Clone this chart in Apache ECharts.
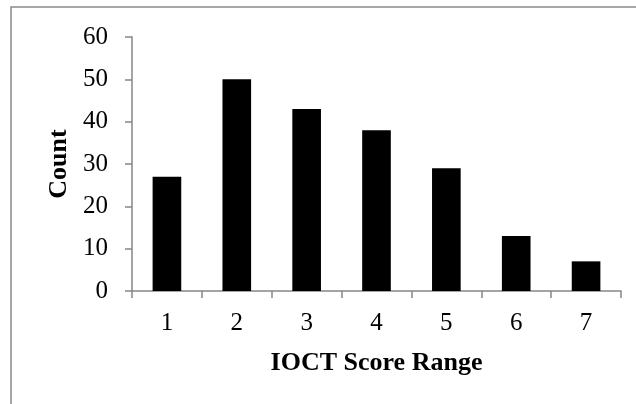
<!DOCTYPE html>
<html><head><meta charset="utf-8">
<script src="https://cdn.jsdelivr.net/npm/echarts@6/dist/echarts.min.js"></script>
<style>html,body{margin:0;padding:0;background:#fff}#c{width:636px;height:404px}</style>
</head><body><div id="c"></div>
<script>
const categories = ['1','2','3','4','5','6','7'];
const counts = [27, 50, 43, 38, 29, 13, 7];
const yTicks = {min: 0, max: 60, interval: 10};
const xTitle = 'IOCT Score Range';
const yTitle = 'Count';

const chart = echarts.init(document.getElementById('c'), null, {renderer: 'canvas'});
const font = 'Liberation Serif, Times New Roman, serif';
const axisGrey = '#868686';
chart.setOption({
  animation: false,
  backgroundColor: '#fff',
  graphic: [{
    type: 'rect', shape: {x: 11, y: 7, width: 700, height: 500},
    style: {fill: 'none', stroke: '#8a8a8a', lineWidth: 1.5}, silent: true
  }],
  grid: {left: 132, right: 15, top: 37, bottom: 113, containLabel: false},
  xAxis: {
    type: 'category', data: categories, boundaryGap: true,
    name: xTitle, nameLocation: 'middle', nameGap: 59,
    nameTextStyle: {fontFamily: font, fontSize: 26, fontWeight: 'bold', color: '#000'},
    axisLine: {lineStyle: {color: axisGrey, width: 1.5}},
    axisTick: {show: true, length: 7, alignWithLabel: false, lineStyle: {color: axisGrey, width: 1.5}},
    axisLabel: {fontFamily: font, fontSize: 25, color: '#000', margin: 20}
  },
  yAxis: {
    type: 'value', min: yTicks.min, max: yTicks.max, interval: yTicks.interval,
    name: yTitle, nameLocation: 'middle', nameGap: 56, nameRotate: 90,
    nameTextStyle: {fontFamily: font, fontSize: 26, fontWeight: 'bold', color: '#000'},
    axisLine: {show: true, lineStyle: {color: axisGrey, width: 1.5}},
    axisTick: {show: true, length: 7, lineStyle: {color: axisGrey, width: 1.5}},
    axisLabel: {fontFamily: font, fontSize: 25, color: '#000', margin: 24},
    splitLine: {show: false}
  },
  series: [{
    type: 'bar', data: counts, barWidth: '41%',
    itemStyle: {color: '#000'}
  }]
});
</script></body></html>
